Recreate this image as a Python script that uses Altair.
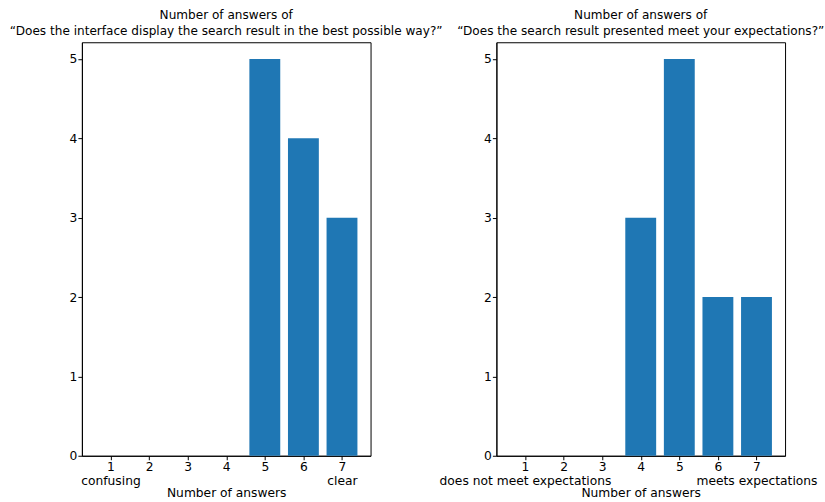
import altair as alt
import pandas as pd

ratings = [1, 2, 3, 4, 5, 6, 7]
counts_interface = [0, 0, 0, 0, 5, 4, 3]
counts_expectations = [0, 0, 0, 3, 5, 2, 2]

title_interface = ["Number of answers of",
                   "\u201cDoes the interface display the search result in the best possible way?\u201d"]
title_expectations = ["Number of answers of",
                      "\u201cDoes the search result presented meet your expectations?\u201d"]

FONT = "DejaVu Sans"
BLUE = "#1f77b4"


def panel(counts, title, low_label, high_label):
    df = pd.DataFrame({"rating": ratings, "count": counts})
    label_expr = (
        f"datum.value == 1 ? ['1', '{low_label}'] : "
        f"datum.value == 7 ? ['7', '{high_label}'] : datum.label"
    )
    return (
        alt.Chart(df)
        .transform_filter("datum.count > 0")
        .transform_calculate(lo="datum.rating - 0.4", hi="datum.rating + 0.4")
        .mark_bar(color=BLUE)
        .encode(
            x=alt.X(
                "lo:Q",
                scale=alt.Scale(domain=[0.26, 7.74], nice=False, zero=False),
                axis=alt.Axis(
                    values=ratings,
                    labelExpr=label_expr,
                    title="Number of answers",
                    grid=False,
                    labelAngle=0,
                    labelLineHeight=13.5,
                    labelOverlap=False,
                ),
            ),
            x2="hi:Q",
            y=alt.Y(
                "count:Q",
                scale=alt.Scale(domain=[0, 5.21], nice=False),
                axis=alt.Axis(values=[0, 1, 2, 3, 4, 5], title=None, grid=False),
            ),
            y2=alt.datum(0),
        )
        .properties(
            width=289,
            height=414,
            title=alt.TitleParams(
                title, font=FONT, fontSize=12.1, fontWeight="normal",
                color="black", anchor="middle", offset=5, lineHeight=16,
            ),
        )
    )


left = panel(counts_interface, title_interface, "confusing", "clear")
right = panel(counts_expectations, title_expectations,
              "does not meet expectations", "meets expectations")

chart = (
    alt.hconcat(left, right, spacing=126, bounds="flush")
    .properties(padding={"left": 9, "top": 8, "right": 0, "bottom": 0})
    .configure_view(stroke="black", strokeWidth=1)
    .configure_axis(
        labelFont=FONT, titleFont=FONT, labelFontSize=12.3, titleFontSize=12.3,
        titleFontWeight="normal", labelColor="black", titleColor="black",
        domainColor="black", tickColor="black", tickSize=4, labelPadding=1,
        titlePadding=0,
    )
)

chart.save("out.html", embed_options={"renderer": "svg", "actions": False})
